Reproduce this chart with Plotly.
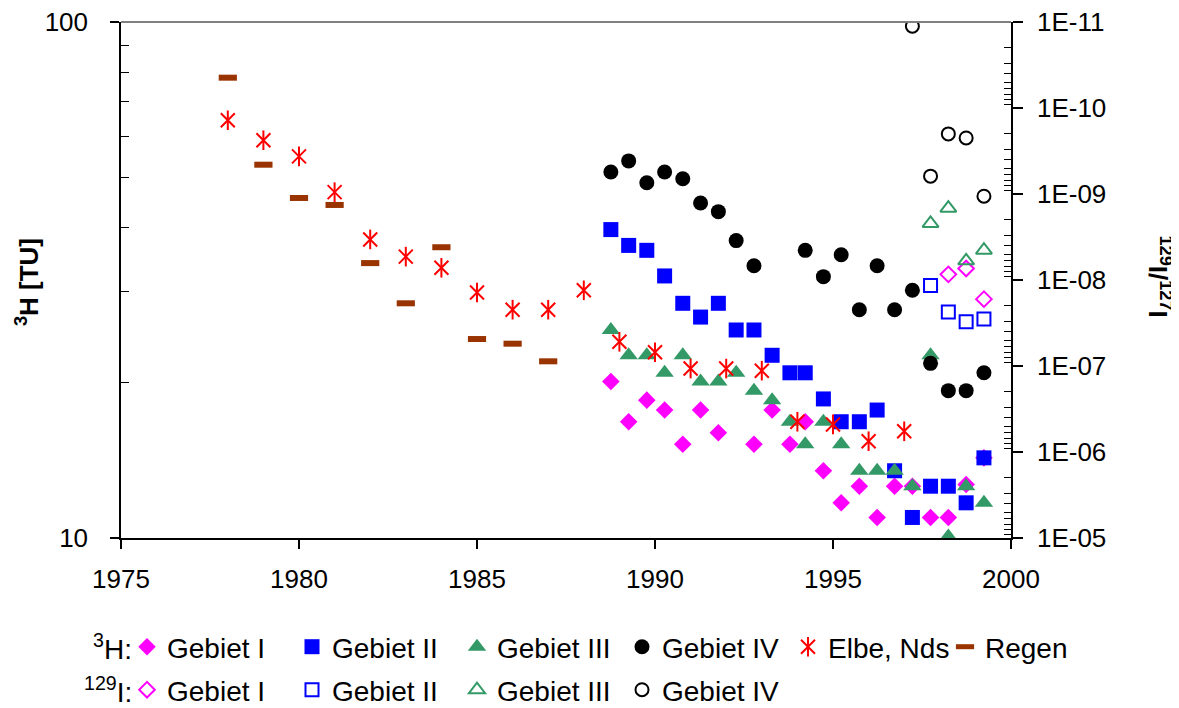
"""Tritium (3H) und 129I/127I im Grundwasser, 1978-1999"""

import plotly.graph_objects as go

FONT = "Liberation Sans, Arial, sans-serif"

# Probenahmetermine der Messgebiete (Dezimaljahre)
jahre_gebiet = [1988.76, 1989.26, 1989.77, 1990.27, 1990.78, 1991.28, 1991.78,
                1992.28, 1992.78, 1993.29, 1993.79, 1994.22, 1994.73, 1995.23,
                1995.74, 1996.24, 1996.73, 1997.23, 1997.74, 1998.24, 1998.74,
                1999.24]
jahre_gebiet_1 = [1988.76, 1989.26, 1989.77, 1990.27, 1990.78, 1991.28, 1991.78,
                  1992.78, 1993.29, 1993.79, 1994.22, 1994.73, 1995.23, 1995.74,
                  1996.24, 1996.73, 1997.23, 1997.74, 1998.24, 1998.74, 1999.24]
jahre_gebiet_4 = [1988.76, 1989.26, 1989.77, 1990.27, 1990.78, 1991.28, 1991.78,
                  1992.28, 1992.78, 1994.22, 1994.73, 1995.23, 1995.74, 1996.24,
                  1996.73, 1997.23, 1997.74, 1998.24, 1998.74, 1999.24]

# 3H [TU]
h3_gebiet_1 = [20.1, 16.8, 18.5, 17.7, 15.2, 17.7, 16.0, 15.2, 17.7, 15.2, 16.8,
               13.5, 11.7, 12.6, 10.96, 12.6, 12.6, 10.96, 10.96, 12.7, 14.3]
h3_gebiet_2 = [39.6, 36.9, 36.1, 32.2, 28.5, 26.8, 28.5, 25.3, 25.3, 22.6, 20.9,
               20.9, 18.6, 16.8, 16.8, 17.7, 13.5, 10.96, 12.6, 12.6, 11.7, 14.3]
h3_gebiet_3 = [25.3, 22.6, 22.6, 20.9, 22.6, 20.1, 20.1, 20.9, 19.3, 18.5, 16.8,
               15.2, 16.8, 15.2, 13.5, 13.5, 13.5, 12.6, 22.6, 10.07, 12.6, 11.7]
h3_gebiet_4 = [51.2, 53.8, 48.8, 51.2, 49.7, 44.6, 42.9, 37.7, 33.7, 36.1, 32.1,
               35.4, 27.7, 33.7, 27.7, 30.2, 21.8, 19.3, 19.3, 20.9]

jahre_elbe = [1978, 1979, 1980, 1981, 1982, 1983, 1984, 1985, 1986, 1987, 1988,
              1989, 1990, 1991, 1992, 1993, 1994, 1995, 1996, 1997]
h3_elbe = [64.5, 59.0, 54.9, 46.8, 37.9, 35.1, 33.4, 29.9, 27.7, 27.7, 30.2,
           24.0, 22.9, 21.3, 21.3, 21.1, 16.8, 16.6, 15.4, 16.1]

jahre_regen = [1978, 1979, 1980, 1981, 1982, 1983, 1984, 1985, 1986, 1987]
h3_regen = [78.0, 52.9, 45.6, 44.2, 34.1, 28.5, 36.6, 24.3, 23.8, 22.0]

# 129I/127I
jahre_i129_1 = [1998.24, 1998.74, 1999.24]
i129_gebiet_1 = [8.6e-9, 7.35e-9, 1.67e-8]
jahre_i129_2 = [1997.74, 1998.24, 1998.74, 1999.24]
i129_gebiet_2 = [1.16e-8, 2.36e-8, 3.06e-8, 2.84e-8]
jahre_i129_3 = [1997.74, 1998.24, 1998.74, 1999.24]
i129_gebiet_3 = [2.2e-9, 1.46e-9, 5.98e-9, 4.5e-9]
jahre_i129_4 = [1997.23, 1997.74, 1998.24, 1998.74, 1999.24]
i129_gebiet_4 = [1.12e-11, 6.2e-10, 2.0e-10, 2.23e-10, 1.06e-9]

x_ticks = [1975, 1980, 1985, 1990, 1995, 2000]
h3_ticks = [10, 100]
i129_ticks = [1e-11, 1e-10, 1e-9, 1e-8, 1e-7, 1e-6, 1e-5]
i129_ticktext = ["1E-11", "1E-10", "1E-09", "1E-08", "1E-07", "1E-06", "1E-05"]

MAGENTA = "#FF00FF"
BLAU = "#0000FF"
GRUEN = "#339966"
ROT = "#FF0000"
BRAUN = "#993300"

# Seite wird mit 8 px Rand angezeigt -> Figur etwas kleiner
BREITE, HOEHE = 1171, 700


def punkte(x, y, name, symbol, farbe, groesse, yaxis="y", legend="legend",
           showlegend=True, linie=0):
    """Streudiagramm-Trace ohne Linie"""
    offen = symbol.endswith("-open")
    return go.Scatter(
        x=x, y=y, name=name, mode="markers", yaxis=yaxis, legend=legend,
        showlegend=showlegend,
        marker=dict(
            symbol=symbol, size=groesse, color=farbe,
            line=dict(width=linie if linie else (2 if offen else 0), color=farbe),
        ),
    )


fig = go.Figure()

# 3H
fig.add_trace(punkte(jahre_gebiet_1, h3_gebiet_1, "Gebiet I", "diamond", MAGENTA, 13.5))
fig.add_trace(punkte(jahre_gebiet, h3_gebiet_2, "Gebiet II", "square", BLAU, 15))
fig.add_trace(punkte(jahre_gebiet, h3_gebiet_3, "Gebiet III", "triangle-up", GRUEN, 16))
fig.add_trace(punkte(jahre_gebiet_4, h3_gebiet_4, "Gebiet IV", "circle", "black", 15))
# Stern = x + senkrechter Strich (zwei Traces, zwei deckungsgleiche Legenden)
fig.add_trace(punkte(jahre_elbe, h3_elbe, "Elbe, Nds", "x-thin-open", ROT, 14, linie=2,
                     legend="legend4"))
fig.add_trace(punkte(jahre_elbe, h3_elbe, "", "line-ns-open", ROT, 14, linie=2,
                     legend="legend5"))
fig.add_trace(punkte(jahre_regen, h3_regen, "Regen", "line-ew-open", BRAUN, 13, linie=6,
                     legend="legend3"))

# 129I
fig.add_trace(punkte(jahre_i129_1, i129_gebiet_1, "Gebiet I", "diamond-open", MAGENTA, 12,
                     yaxis="y2", legend="legend2"))
fig.add_trace(punkte(jahre_i129_2, i129_gebiet_2, "Gebiet II", "square-open", BLAU, 13,
                     yaxis="y2", legend="legend2"))
fig.add_trace(punkte(jahre_i129_3, i129_gebiet_3, "Gebiet III", "triangle-up-open", GRUEN, 14,
                     yaxis="y2", legend="legend2"))
fig.add_trace(punkte(jahre_i129_4, i129_gebiet_4, "Gebiet IV", "circle-open", "black", 13,
                     yaxis="y2", legend="legend2"))

# Nebenteilstriche
minor_h3 = [k * 10 for k in range(2, 10)]
minor_i129 = [k * 10.0 ** n for n in range(-11, -5) for k in range(2, 10)]

achsenfont = dict(family=FONT, size=26, color="black")
legendenfont = dict(family=FONT, size=28, color="black")


def legende(x_px, y_px):
    """Waagerechte Legende an fester Stelle (Pixel der Figur)"""
    return dict(
        orientation="h", xref="container", yref="container",
        x=x_px / BREITE, xanchor="left", y=1 - y_px / HOEHE, yanchor="middle",
        entrywidth=120, font=legendenfont, bgcolor="rgba(0,0,0,0)",
        itemclick=False, itemdoubleclick=False,
    )


fig.update_layout(
    width=BREITE,
    height=HOEHE,
    margin=dict(l=113, r=168, t=14, b=170, autoexpand=False),
    plot_bgcolor="white",
    paper_bgcolor="white",
    font=achsenfont,
    xaxis=dict(
        range=[1975, 2000], tickvals=x_ticks, showgrid=False, zeroline=False,
        showline=True, linecolor="black", linewidth=1.5, automargin=False,
        ticks="outside", ticklen=9, tickcolor="black", tickwidth=1.5,
        ticklabelstandoff=8, tickfont=achsenfont, ticklabeloverflow="allow",
    ),
    yaxis=dict(
        type="log", range=[1, 2], tickvals=h3_ticks, ticktext=["10", "100"],
        showgrid=False, zeroline=False, showline=True, linecolor="black", linewidth=1.5,
        automargin=False, ticks="outside", ticklen=9, tickcolor="black", tickwidth=1.5,
        ticklabelstandoff=17, tickfont=achsenfont, ticklabeloverflow="allow",
        minor=dict(tickvals=minor_h3, ticks="inside", ticklen=8,
                   tickcolor="black", tickwidth=1.2, showgrid=False),
    ),
    yaxis2=dict(
        type="log", range=[-5, -11], overlaying="y", side="right", anchor="x",
        tickvals=i129_ticks, ticktext=i129_ticktext,
        showgrid=False, zeroline=False, showline=True, linecolor="black", linewidth=1.5,
        automargin=False, ticks="outside", ticklen=10, tickcolor="black", tickwidth=1.5,
        ticklabelstandoff=9, tickfont=achsenfont, ticklabeloverflow="allow",
        minor=dict(tickvals=minor_i129, ticks="inside", ticklen=7,
                   tickcolor="black", tickwidth=1.2, showgrid=False),
    ),
    # Hauptteilstriche rechts auch nach innen (Kreuzmarken)
    yaxis3=dict(
        type="log", range=[-5, -11], overlaying="y", side="right", anchor="x",
        tickvals=i129_ticks, showticklabels=False, showgrid=False, zeroline=False,
        showline=False, automargin=False, ticks="inside", ticklen=10,
        tickcolor="black", tickwidth=1.5,
    ),
    legend=legende(119, 639),
    legend4=legende(780, 639),
    legend5=legende(780, 639),
    legend3=legende(937, 639),
    legend2=legende(119, 682),
    showlegend=True,
)

# Rahmen oben (grau)
fig.add_shape(type="line", xref="paper", yref="paper", x0=0, x1=1, y0=1, y1=1,
              line=dict(color="#808080", width=2))

titelfont = dict(family=FONT, size=26, color="black")
fig.add_annotation(text="<b><sup>3</sup>H [TU]</b>", xref="paper", yref="paper",
                   x=-0.1056, y=0.496, xanchor="center", yanchor="middle",
                   textangle=-90, showarrow=False, font=titelfont)
fig.add_annotation(text="<b><sup>129</sup>I/<sup>127</sup>I</b>", xref="paper", yref="paper",
                   x=1.1674, y=0.507, xanchor="center", yanchor="middle",
                   textangle=90, showarrow=False, font=titelfont)
fig.add_annotation(text="<sup>3</sup>H:", xref="paper", yref="paper",
                   x=0.0146, y=-0.211, xanchor="right", yanchor="middle",
                   showarrow=False, font=legendenfont)
fig.add_annotation(text="<sup>129</sup>I:", xref="paper", yref="paper",
                   x=0.0146, y=-0.294, xanchor="right", yanchor="middle",
                   showarrow=False, font=legendenfont)

fig.write_html("out.html")
